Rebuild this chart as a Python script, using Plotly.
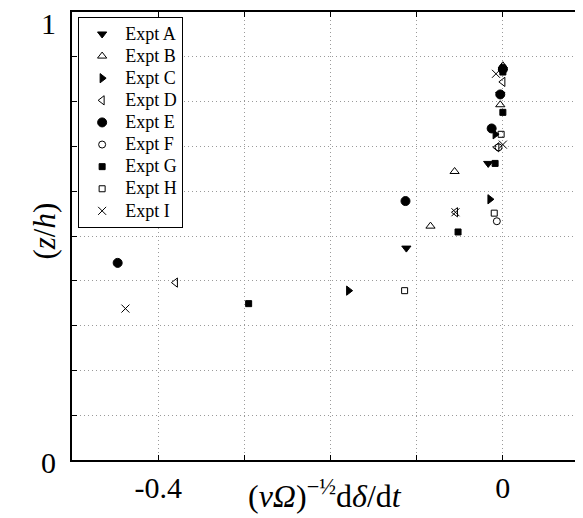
import plotly.graph_objects as go

names = ['Expt A', 'Expt B', 'Expt C', 'Expt D', 'Expt E',
         'Expt F', 'Expt G', 'Expt H', 'Expt I']

a_x = [-0.112, -0.017, -0.003, 0.000]
a_y = [0.473, 0.662, 0.816, 0.868]
b_x = [-0.084, -0.056, -0.003, 0.000]
b_y = [0.522, 0.644, 0.793, 0.880]
c_x = [-0.179, -0.015, -0.009, 0.000]
c_y = [0.378, 0.582, 0.727, 0.870]
d_x = [-0.380, -0.055, -0.007, 0.000]
d_y = [0.396, 0.553, 0.698, 0.844]
e_x = [-0.447, -0.113, -0.013, -0.003, 0.000]
e_y = [0.440, 0.578, 0.740, 0.816, 0.872]
f_x = [-0.007, -0.005, 0.000]
f_y = [0.533, 0.698, 0.876]
g_x = [-0.295, -0.052, -0.009, 0.000, 0.000]
g_y = [0.349, 0.509, 0.662, 0.776, 0.866]
h_x = [-0.114, -0.010, -0.002]
h_y = [0.378, 0.551, 0.727]
i_x = [-0.438, -0.055, 0.000, -0.008]
i_y = [0.338, 0.553, 0.704, 0.862]

xs = [a_x, b_x, c_x, d_x, e_x, f_x, g_x, h_x, i_x]
ys = [a_y, b_y, c_y, d_y, e_y, f_y, g_y, h_y, i_y]
symbols = ['triangle-down', 'triangle-up-open', 'triangle-right', 'triangle-left-open',
           'circle', 'circle-open', 'square', 'square-open', 'x-thin-open']
sizes = [8, 8, 8, 8, 9, 7, 6, 6, 8]

x_ticks = [-0.5, -0.4, -0.3, -0.2, -0.1, 0.0]
x_text = ['', '-0.4', '', '', '', '0']
y_ticks = [i / 10 for i in range(11)]

serif = 'Liberation Serif, Times New Roman, serif'

fig = go.Figure()
for n, x, y, s, sz in zip(names, xs, ys, symbols, sizes):
    fig.add_trace(go.Scatter(x=x, y=y, mode='markers',
                             name='<span style="font-size:18px">' + n + '</span>',
                             marker=dict(symbol=s, size=sz, color='black',
                                         line=dict(width=1, color='black'))))

# page has an 8px body margin, so margins are shifted by 8px
fig.update_layout(
    width=583, height=518,
    margin=dict(l=64, r=8, t=2, b=66),
    plot_bgcolor='white', paper_bgcolor='white',
    font=dict(family=serif, color='black'),
    showlegend=True,
    legend=dict(x=0.012, y=0.989, xanchor='left', yanchor='top',
                bgcolor='white', bordercolor='black', borderwidth=1,
                font=dict(size=14.7, family=serif), tracegroupgap=0,
                itemwidth=36),
)
grid = dict(showgrid=True, gridcolor='#9a9a9a', griddash='1px,3px', gridwidth=1)
fig.update_xaxes(range=[-0.5, 0.093], tickvals=x_ticks, ticktext=x_text,
                 ticks='inside', ticklen=5, tickcolor='black',
                 showline=True, linecolor='black', linewidth=1.5, mirror='allticks',
                 zeroline=False, tickfont=dict(size=30), **grid)
fig.update_yaxes(range=[0, 1], tickvals=y_ticks, showticklabels=False,
                 ticks='inside', ticklen=5, tickcolor='black',
                 showline=True, linecolor='black', linewidth=1.5,
                 zeroline=False, **grid)

# y tick labels and axis titles
fig.add_annotation(x=0, xref='paper', y=1, yref='y', text='1', showarrow=False,
                   xanchor='right', xshift=-14, yshift=-11, font=dict(size=30))
fig.add_annotation(x=0, xref='paper', y=0, yref='y', text='0', showarrow=False,
                   xanchor='right', xshift=-14, yshift=-2, font=dict(size=30))
fig.add_annotation(x=0.495, xref='paper', y=-0.125, yref='paper',
                   text='(<i>νΩ</i>)<sup>−½</sup>d<i>δ</i>/d<i>t</i>',
                   showarrow=False, font=dict(size=32))
fig.add_annotation(x=-0.092, xref='paper', y=0.511, yref='paper',
                   text='(<i>z</i>/<i>h</i>)', textangle=-90,
                   showarrow=False, font=dict(size=31))

fig.write_html('out.html')
